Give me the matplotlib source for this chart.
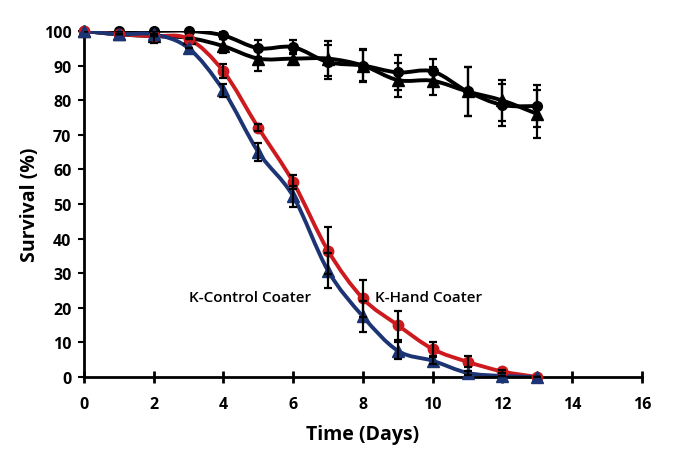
import numpy as np
import matplotlib
matplotlib.use("Agg")
import matplotlib.pyplot as plt
from matplotlib.path import Path
from matplotlib.patches import PathPatch

plt.rcParams['font.family'] = ['Open Sans', 'DejaVu Sans']

days = [0, 1, 2, 3, 4, 5, 6, 7, 8, 9, 10, 11, 12, 13]

# black series
ctrl_circle = [100, 100, 100, 100, 98.7, 95, 95.3, 91, 90, 88, 88.3, 82.5, 78.6, 78.3]
ctrl_circle_err = [0, 0, 0, 0, 1, 2.5, 2, 5, 4.5, 5, 3.5, 7, 6, 6]
ctrl_tri = [100, 99, 98.5, 98, 95.6, 92, 92, 92, 90, 85.8, 85.6, 82.5, 79.9, 76]
ctrl_tri_err = [0, 0, 2, 0, 2, 3.5, 1.5, 5, 4.7, 5, 4, 7, 6, 7]

# K-Hand Coater (red) and K-Control Coater (blue)
hand = [100, 99, 98.5, 97.7, 88.3, 72, 56.3, 36.5, 22.7, 15, 8.1, 4.4, 1.6, 0]
hand_err = [0, 0, 0, 0, 2, 1, 2, 6.8, 5.4, 4.2, 2, 1.6, 0.5, 0]
ctl = [100, 99, 99, 95, 82.8, 65, 52.2, 30.7, 17.5, 7.6, 4.7, 1.2, 0.3, 0]
ctl_err = [0, 0, 0, 0, 2, 2.5, 3, 5, 4.6, 2.4, 1, 0.5, 0, 0]

RED = '#cc1a1f'
BLUE = '#1c3473'


def smooth_path(x, y):
    # Excel-like smoothed line: cubic bezier segments through the data points
    pts = np.column_stack([x, y]).astype(float)
    n = len(pts)
    verts = [pts[0]]
    codes = [Path.MOVETO]
    for i in range(n - 1):
        p0 = pts[i - 1] if i > 0 else pts[i]
        p1 = pts[i]
        p2 = pts[i + 1]
        p3 = pts[i + 2] if i + 2 < n else pts[i + 1]
        c1 = p1 + (p2 - p0) / 6.0
        c2 = p2 - (p3 - p1) / 6.0
        verts += [c1, c2, p2]
        codes += [Path.CURVE4] * 3
    return Path(verts, codes)


fig = plt.figure(figsize=(6.85, 4.56), dpi=100)
ax = fig.add_axes([0.1226, 0.171, 0.8144, 0.759])

series = [
    (ctrl_circle, ctrl_circle_err, 'black', 'o', 7),
    (ctrl_tri, ctrl_tri_err, 'black', '^', 8),
    (hand, hand_err, RED, 'o', 7.5),
    (ctl, ctl_err, BLUE, '^', 9),
]

for vals, err, col, mk, ms in series:
    ax.add_patch(PathPatch(smooth_path(days, vals), facecolor='none',
                           edgecolor=col, lw=2.8, zorder=2,
                           capstyle='round', joinstyle='round'))
    ax.plot(days, vals, linestyle='none', marker=mk, ms=ms, color=col,
            zorder=3, clip_on=False)

for vals, err, col, mk, ms in series:
    ax.errorbar(days, vals, yerr=err, fmt='none', ecolor='black',
                elinewidth=1.6, capsize=3, capthick=1.6, zorder=4)

ax.set_xlim(0, 16)
ax.set_ylim(0, 100)
ax.set_xticks(range(0, 17, 2))
ax.set_yticks(range(0, 101, 10))

for s in ['top', 'right']:
    ax.spines[s].set_visible(False)
for s in ['left', 'bottom']:
    ax.spines[s].set_linewidth(2)

ax.tick_params(axis='y', direction='out', length=4, width=1.5, labelsize=11.5, pad=5)
ax.tick_params(axis='x', direction='inout', length=8, width=2, labelsize=11.5, pad=10)
for lab in ax.get_xticklabels() + ax.get_yticklabels():
    lab.set_fontweight('bold')

ax.set_xlabel('Time (Days)', fontsize=14, fontweight='bold', labelpad=8)
ax.set_ylabel('Survival (%)', fontsize=14, fontweight='bold', labelpad=3)

ax.text(4.75, 23, 'K-Control Coater', fontsize=11, fontweight='semibold',
        ha='center', va='center')
ax.text(8.35, 23, 'K-Hand Coater', fontsize=11, fontweight='semibold',
        ha='left', va='center')

fig.savefig('out.png', dpi=100)
